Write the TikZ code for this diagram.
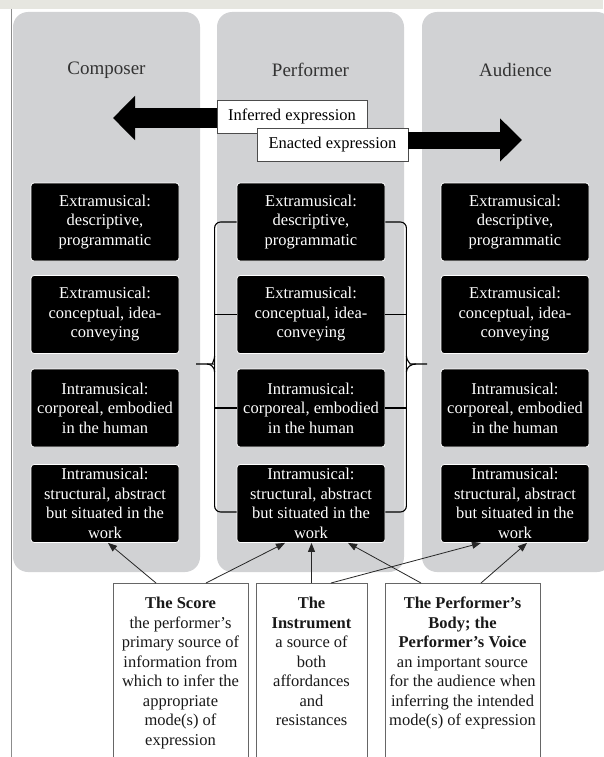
\documentclass[tikz,border=0pt]{standalone}
\usepackage{fontspec}
\setmainfont{Liberation Serif}
\usetikzlibrary{arrows.meta,calc}
\definecolor{fond}{RGB}{209,210,212}
\definecolor{bande}{RGB}{230,230,224}
\begin{document}
\begin{tikzpicture}[x=1pt,y=-1pt]
\tikzstyle{colonne}=[fill=fond,rounded corners=15pt]
\tikzstyle{fleche}=[-{Triangle[length=9pt,width=7pt]},line width=0.8pt,black!85]
\tikzstyle{crochet}=[line width=1.1pt,rounded corners=6pt]
\tikzset{mode/.style={fill=black,draw=white,line width=0.8pt,rounded corners=3pt,text=white,align=center,
minimum width=148pt,minimum height=78pt,inner sep=1pt,font=\fontsize{16.5}{19.5}\selectfont},
etiquette/.style={draw=black!70,fill=white,line width=0.6pt,minimum width=#1,minimum height=33pt,
inner sep=0pt,font=\fontsize{16.5}{19.5}\selectfont},
etiquette/.default={150pt},
source/.style={draw=black!60,fill=white,line width=0.6pt,anchor=north,inner xsep=0pt,inner ysep=14pt,
text=black!90,font=\fontsize{16.5}{19.5}\selectfont},
titre/.style={text=black!80,font=\fontsize{19}{22}\selectfont}}
\useasboundingbox (0,0) rectangle (603,757);
\fill[white] (0,0) rectangle (603,757);
\fill[bande] (0,0) rectangle (603,9);
\draw[black!45,line width=0.7pt] (11,9) -- (11,757);

% colonnes
\fill[colonne] (13,12) rectangle (200,572);
\fill[colonne] (217,12) rectangle (404,572);
\fill[colonne] (422,12) rectangle (612,572);
\node[titre] (tc) at (106.5,70) {Composer};
\node[titre] (tp) at (310.5,70) {Performer};
\node[titre] (ta) at (515.5,70) {Audience};

% expression
\node[etiquette] (inf) at (292,116.5) {Inferred expression};
\node[etiquette=151pt] (ena) at (332.5,144.5) {Enacted expression};
\coordinate (gauche) at (113,118);
\coordinate (droite) at (522,140);
\draw[line width=20pt,-{Triangle[length=22pt,width=43pt]}] (inf.west |- gauche) -- (gauche);
\draw[line width=17pt,-{Triangle[length=22pt,width=42pt]}] (ena.east |- droite) -- (droite);

% modes
\node[mode] (C1) at (105,222) {Extramusical:\\descriptive,\\programmatic};
\node[mode] (C2) at (105,314.5) {Extramusical:\\conceptual, idea-\\conveying};
\node[mode] (C3) at (105,408) {Intramusical:\\corporeal, embodied\\in the human};
\node[mode] (C4) at (105,503.5) {Intramusical:\\structural, abstract\\but situated in the\\work};
\node[mode] (P1) at (311,222) {Extramusical:\\descriptive,\\programmatic};
\node[mode] (P2) at (311,314.5) {Extramusical:\\conceptual, idea-\\conveying};
\node[mode] (P3) at (311,408) {Intramusical:\\corporeal, embodied\\in the human};
\node[mode] (P4) at (311,503.5) {Intramusical:\\structural, abstract\\but situated in the\\work};
\node[mode] (A1) at (515,222) {Extramusical:\\descriptive,\\programmatic};
\node[mode] (A2) at (515,314.5) {Extramusical:\\conceptual, idea-\\conveying};
\node[mode] (A3) at (515,408) {Intramusical:\\corporeal, embodied\\in the human};
\node[mode] (A4) at (515,503.5) {Intramusical:\\structural, abstract\\but situated in the\\work};

% crochets
\coordinate (bg) at ([xshift=-22pt]P1.west);
\coordinate (bd) at ([xshift=21pt]P1.east);
\coordinate (basg) at ($(P4.west)+(0,8.5)$);
\coordinate (basd) at ($(P4.east)+(0,8.5)$);
\coordinate (pg) at (196,364);
\coordinate (pd) at (427,364);
\draw[crochet] (P1.west) -| (bg |- basg) -- (basg);
\draw[crochet] (P1.east) -| (bd |- basd) -- (basd);
\draw[crochet] (P2.west) -- (P2.west -| bg);
\draw[crochet] (P3.west) -- (P3.west -| bg);
\draw[crochet] (P2.east) -- (P2.east -| bd);
\draw[crochet] (P3.east) -- (P3.east -| bd);
\draw[crochet] ($(bg |- pg)+(0,-8)$) to[out=-90,in=0] ($(pg)+(11,0)$) -- (pg);
\draw[crochet] ($(bg |- pg)+(0,8)$) to[out=90,in=0] ($(pg)+(11,0)$);
\draw[crochet] ($(bd |- pd)+(0,-8)$) to[out=-90,in=180] ($(pd)+(-11,0)$) -- (pd);
\draw[crochet] ($(bd |- pd)+(0,8)$) to[out=90,in=180] ($(pd)+(-11,0)$);

% sources
\node[source] (score) at (180.5,583) {\parbox[t][190pt][t]{135pt}{\centering
\textbf{The Score}\\the performer's\\primary source of\\information from\\which to infer the\\appropriate\\mode(s) of\\expression}};
\node[source] (instr) at (311.5,583) {\parbox[t][190pt][t]{111pt}{\centering
\textbf{The}\\\textbf{Instrument}\\a source of\\both\\affordances\\and\\resistances}};
\node[source] (corps) at (462.5,583) {\parbox[t][190pt][t]{155pt}{\centering
\textbf{The Performer's}\\\textbf{Body; the}\\\textbf{Performer's Voice}\\an important source\\for the audience when\\inferring the intended\\mode(s) of expression}};

\draw[fleche] ([xshift=-24.5pt]score.north) -- ([xshift=3pt]C4.south);
\draw[fleche] ([xshift=25.5pt]score.north) -- ([xshift=-26pt]P4.south);
\draw[fleche] (instr.north) -- (instr.north |- P4.south);
\draw[fleche] ([xshift=19.5pt]instr.north) -- ([xshift=-34pt]A4.south);
\draw[fleche] ([xshift=-41.5pt]corps.north) -- ([xshift=37pt]P4.south);
\draw[fleche] ([xshift=18.5pt]corps.north) -- ([xshift=12pt]A4.south);

\end{tikzpicture}
\end{document}
